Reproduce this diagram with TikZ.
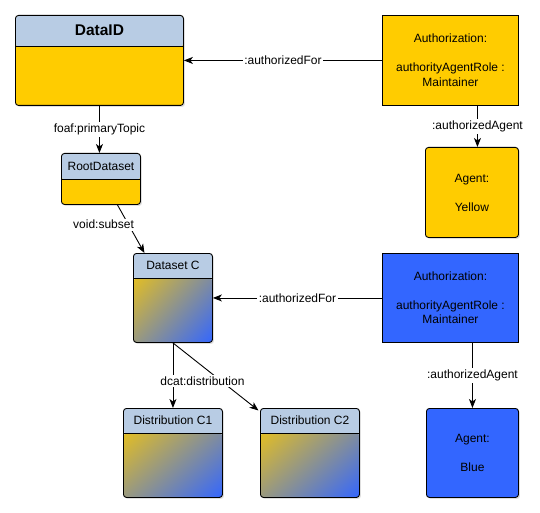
\documentclass[tikz,border=0pt]{standalone}
\usepackage{fontspec}
\setmainfont{Liberation Sans}
\usetikzlibrary{arrows.meta,shadows,shadings}
\definecolor{headblue}{HTML}{B8CCE4}
\definecolor{roleyellow}{HTML}{FFCC00}
\definecolor{roleblue}{HTML}{3366FF}
\colorlet{rolemix}{roleyellow!50!roleblue}
\newcommand{\classhead}[1]{%
  \fill[headblue] (path picture bounding box.north west)%
    rectangle ([yshift=-#1]path picture bounding box.north east);%
  \draw ([yshift=-#1]path picture bounding box.north west)%
    -- ([yshift=-#1]path picture bounding box.north east);}
\tikzset{%
  boxshadow/.style = {drop shadow={shadow xshift=1.5pt,shadow yshift=-1.5pt,%
                      opacity=0.25}},%
  classbox/.style  = {shape=rectangle, draw, rounded corners=3pt,%
                      inner sep=0pt, anchor=north west, boxshadow,%
                      fill=roleyellow, path picture={\classhead{#1}}},%
  gradbox/.style   = {shape=rectangle, draw, rounded corners=3pt,%
                      inner sep=0pt, anchor=north west, boxshadow,%
                      path picture={%
                        \shade[upper left=roleyellow, upper right=rolemix,%
                               lower left=rolemix, lower right=roleblue]%
                          ([yshift=-#1]path picture bounding box.north west)%
                          rectangle (path picture bounding box.south east);%
                        \classhead{#1}}},%
  title/.style     = {font=\fontsize{12}{14.5}\selectfont},%
  rolebox/.style   = {shape=rectangle, draw, align=center, inner sep=0pt,%
                      anchor=north west, font=\fontsize{12}{14.5}\selectfont},%
  agentbox/.style  = {rolebox, rounded corners=3pt, boxshadow},%
  lbl/.style       = {fill=white, inner sep=1.5pt, font=\fontsize{12}{14}\selectfont},%
  conn/.style      = {-{Stealth[length=9pt,width=7pt,inset=2.5pt]}}%
}
\begin{document}
\begin{tikzpicture}[x=1pt,y=-1pt,line width=0.9pt]%
	\useasboundingbox (0,0) rectangle (540,513);%
	% class boxes
	\node[classbox=31pt, minimum width=168pt, minimum height=90pt] (dataid) at (15,15) {};%
	\node[font=\bfseries\fontsize{15.5}{18}\selectfont] (dataidT) at ([yshift=-15.5pt]dataid.north) {DataID};%
	\node[classbox=26pt, minimum width=79pt, minimum height=51pt] (root) at (61,153) {};%
	\node[title] (rootT) at ([yshift=-13pt]root.north) {RootDataset};%
	\node[gradbox=25pt, minimum width=79pt, minimum height=89pt] (dsc) at (133,253) {};%
	\node[title] (dscT) at ([yshift=-12.5pt]dsc.north) {Dataset C};%
	\node[gradbox=25pt, minimum width=99pt, minimum height=89pt] (dc1) at (123,408) {};%
	\node[title] (dc1T) at ([yshift=-12.5pt]dc1.north) {Distribution C1};%
	\node[gradbox=25pt, minimum width=99pt, minimum height=89pt] (dc2) at (260,408) {};%
	\node[title] (dc2T) at ([yshift=-12.5pt]dc2.north) {Distribution C2};%
	% authorizations and agents
	\node[rolebox, fill=roleyellow, minimum width=136pt, minimum height=90pt] (auth1) at (382,15)%
		{Authorization:\\[14.5pt]authorityAgentRole :\\Maintainer};%
	\node[agentbox, fill=roleyellow, minimum width=93pt, minimum height=90pt] (agent1) at (425,147)%
		{Agent:\\[14.5pt]Yellow};%
	\node[rolebox, fill=roleblue, minimum width=136pt, minimum height=89pt] (auth2) at (382,253)%
		{Authorization:\\[14.5pt]authorityAgentRole :\\Maintainer};%
	\node[agentbox, fill=roleblue, minimum width=92pt, minimum height=89pt] (agent2) at (426,408)%
		{Agent:\\[14.5pt]Blue};%
	% connectors
	\draw[conn] (auth1.west) -- node[lbl] {:authorizedFor} (dataid.east);%
	\draw[conn] ([xshift=27pt]auth1.south) -- node[lbl] {:authorizedAgent}%
		([xshift=27pt]auth1.south |- agent1.north);%
	\draw[conn] (dataid.south) -- node[lbl] {foaf:primaryTopic} (dataid.south |- root.north);%
	\draw[conn] ([xshift=16.5pt]root.south) -- node[lbl, pos=0.41, xshift=-25pt] {void:subset}%
		([xshift=-28.5pt]dsc.north);%
	\draw[conn] (auth2.west) -- node[lbl] {:authorizedFor} (dsc.east);%
	\draw[conn] ([xshift=22pt]auth2.south) -- node[lbl] {:authorizedAgent} (agent2.north);%
	\draw[conn] (dsc.south) -- ([xshift=-1.5pt,yshift=-2.5pt]dc2.north west);%
	\draw[conn] (dsc.south) -- node[lbl, pos=0.59, xshift=29.5pt] {dcat:distribution} (dc1.north);%
\end{tikzpicture}
\end{document}
